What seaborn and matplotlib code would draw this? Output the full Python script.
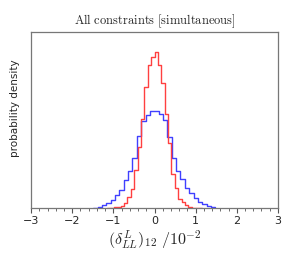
import numpy as np
import pandas as pd
import seaborn as sns
import matplotlib
matplotlib.use("Agg")
import matplotlib.pyplot as plt

# bin edges (units of 10^-2)
blue_start, blue_width, blue_nbins = -1.49, 0.106, 28
red_start, red_width, red_nbins = -1.155, 0.0825, 28

# bar heights (arbitrary density units)
blue_heights = [0.7, 1.5, 3, 5, 8, 13, 18.5, 28, 37, 50, 72, 87, 93, 97.5,
                97.5, 94, 88, 71, 50, 37, 29, 20, 15, 10, 6.3, 4, 2, 1]
red_heights = [0.2, 0.4, 0.8, 1.4, 2.7, 5.3, 11, 19, 38, 61, 89, 121, 143, 151,
               156, 143, 125, 94, 65, 34, 20.7, 9.7, 6.3, 3, 1.3, 0.7, 0.3, 0.15]

blue_edges = [blue_start + blue_width * i for i in range(blue_nbins + 1)]
red_edges = [red_start + red_width * i for i in range(red_nbins + 1)]

blue = pd.DataFrame({"x": [(a + b) / 2 for a, b in zip(blue_edges[:-1], blue_edges[1:])],
                     "w": blue_heights})
red = pd.DataFrame({"x": [(a + b) / 2 for a, b in zip(red_edges[:-1], red_edges[1:])],
                    "w": red_heights})

sns.set_style("ticks")
plt.rcParams["mathtext.fontset"] = "cm"
plt.rcParams["font.family"] = ["DejaVu Sans"]

fig = plt.figure(figsize=(2.96, 2.61), dpi=100)
ax = fig.add_axes([0.105, 0.202, 0.834, 0.677])

sns.histplot(data=blue, x="x", weights="w", bins=blue_edges, element="step",
             fill=False, color="#4040ff", linewidth=1.0, ax=ax)
sns.histplot(data=red, x="x", weights="w", bins=red_edges, element="step",
             fill=False, color="#ff4040", linewidth=1.0, ax=ax)

ax.set_xlim(-3, 3)
ax.set_ylim(0, 176.6)
ax.set_xticks([-3, -2, -1, 0, 1, 2, 3])
ax.set_xticks(np.arange(-3, 3.01, 0.2), minor=True)
ax.set_yticks([])
ax.tick_params(axis="x", which="major", direction="out", length=3.5, width=0.8,
               labelsize=8, color="#555555", pad=2)
ax.tick_params(axis="x", which="minor", direction="out", length=2, width=0.6,
               color="#555555")
for s in ax.spines.values():
    s.set_color("#777777")
    s.set_linewidth(0.9)

ax.set_title(r"$\mathrm{All\ constraints\ [simultaneous]}$", fontsize=9, pad=5)
ax.set_xlabel(r"$(\delta^{L}_{LL})_{12}\ /10^{-2}$", fontsize=11.5, labelpad=2)
ax.set_ylabel("probability density", fontsize=7.5)
ax.yaxis.set_label_coords(-0.045, 0.565)

fig.savefig("out.png", dpi=100)
